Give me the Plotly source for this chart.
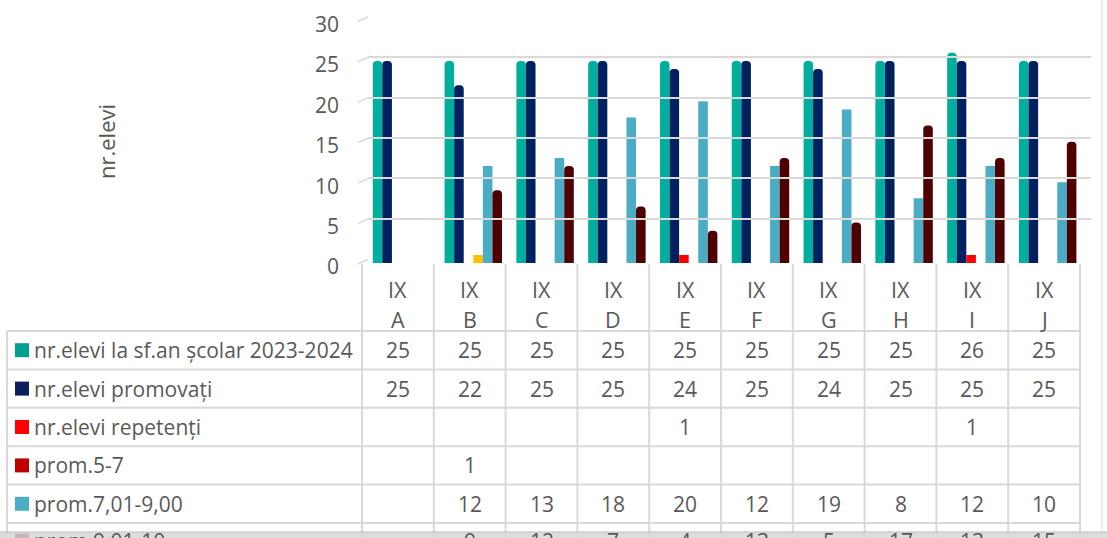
import plotly.graph_objects as go

# ---------------- data ----------------
categories = ["IX A", "IX B", "IX C", "IX D", "IX E", "IX F", "IX G", "IX H", "IX I", "IX J"]
series_names = [
    "nr.elevi la sf.an școlar 2023-2024",
    "nr.elevi promovați",
    "nr.elevi repetenți",
    "prom.5-7",
    "prom.7,01-9,00",
    "prom.9,01-10",
]
elevi_total = [25, 25, 25, 25, 25, 25, 25, 25, 26, 25]
elevi_promovati = [25, 22, 25, 25, 24, 25, 24, 25, 25, 25]
elevi_repetenti = [None, None, None, None, 1, None, None, None, 1, None]
prom_5_7 = [None, 1, None, None, None, None, None, None, None, None]
prom_7_9 = [None, 12, 13, 18, 20, 12, 19, 8, 12, 10]
prom_9_10 = [None, 9, 12, 7, 4, 13, 5, 17, 13, 15]
y_ticks = [0, 5, 10, 15, 20, 25, 30]
y_title = "nr.elevi"

series_values = [elevi_total, elevi_promovati, elevi_repetenti, prom_5_7, prom_7_9, prom_9_10]

# ---------------- styles ----------------
W, H = 1107, 538
bar_colors = ["#00AE9E", "#002060", "#FF0000", "#FFC000", "#4BACC6", "#4F0000"]
key_colors = ["#00A090", "#0C1F5C", "#FF0000", "#C00000", "#4BACC6", "#4F0000"]
corner = ["50%", "50%", 0, 0, 0, "50%"]
text_color = "#595959"
grid_color = "#D9D9D9"
FONT = "'Open Sans', Lato, sans-serif"
FS = 21


def px(x):
    return x / W


def py(y):
    return 1 - y / H


plot_left, plot_right = 362, 1080
y0_px, y30_px = 263, 20.5

fig = go.Figure()

# back-wall gridlines (dummy invisible trace on secondary axes)
fig.add_trace(go.Scatter(x=[0], y=[0], xaxis="x2", yaxis="y2", mode="markers",
                         marker=dict(opacity=0), hoverinfo="skip", showlegend=False))

for name, vals, col, cr in zip(series_names, series_values, bar_colors, corner):
    fig.add_trace(go.Bar(
        x=categories, y=vals, name=name,
        marker=dict(color=col, line=dict(width=0), cornerradius=cr),
        showlegend=False,
    ))

shapes = []
annotations = []

# side wall little slants
for v in y_ticks:
    yf = y0_px - (y0_px - y30_px) * v / 30
    shapes.append(dict(type="line", xref="paper", yref="paper",
                       x0=px(358), y0=py(yf + 1), x1=px(368), y1=py(yf - 3.7),
                       line=dict(color=grid_color, width=1.5)))

# ---------------- data table ----------------
ncol = len(categories)
col_w = (plot_right - plot_left) / ncol
table_left = 7
header_top = 264
row_tops = [331, 369.4, 407.8, 446.2, 484.6, 523]
row_centers = [350.2, 388.6, 427, 465.4, 503.8, 540.5]
line_style = dict(color=grid_color, width=2)

# horizontal lines
for rt in row_tops:
    shapes.append(dict(type="line", xref="paper", yref="paper",
                       x0=px(table_left), x1=px(plot_right), y0=py(rt), y1=py(rt), line=line_style))
# vertical lines
for i in range(ncol + 1):
    xx = plot_left + i * col_w
    shapes.append(dict(type="line", xref="paper", yref="paper",
                       x0=px(xx), x1=px(xx), y0=py(header_top), y1=py(H + 40), line=line_style))
shapes.append(dict(type="line", xref="paper", yref="paper",
                   x0=px(table_left), x1=px(table_left), y0=py(row_tops[0]), y1=py(H + 40), line=line_style))

# header labels
for i, c in enumerate(categories):
    parts = c.split(" ")
    xc = plot_left + (i + 0.5) * col_w
    annotations.append(dict(x=px(xc), y=py(289), xref="paper", yref="paper", text=parts[0],
                            showarrow=False, xanchor="center", yanchor="middle",
                            font=dict(size=FS + 0.5, color=text_color, family=FONT)))
    annotations.append(dict(x=px(xc), y=py(319), xref="paper", yref="paper", text=parts[1],
                            showarrow=False, xanchor="center", yanchor="middle",
                            font=dict(size=FS + 0.5, color=text_color, family=FONT)))

# rows
for r, (name, vals, kc) in enumerate(zip(series_names, series_values, key_colors)):
    yc = row_centers[r]
    shapes.append(dict(type="rect", xref="paper", yref="paper",
                       x0=px(15), x1=px(29), y0=py(yc - 7), y1=py(yc + 7),
                       fillcolor=kc, line=dict(width=0)))
    annotations.append(dict(x=px(32), y=py(yc), xref="paper", yref="paper", text=name,
                            showarrow=False, xanchor="left", yanchor="middle",
                            font=dict(size=FS, color=text_color, family=FONT)))
    for i, v in enumerate(vals):
        if v is None:
            continue
        xc = plot_left + (i + 0.5) * col_w
        annotations.append(dict(x=px(xc), y=py(yc), xref="paper", yref="paper", text=str(v),
                                showarrow=False, xanchor="center", yanchor="middle",
                                font=dict(size=FS, color=text_color, family=FONT)))

# y title
annotations.append(dict(x=px(106), y=py(142), xref="paper", yref="paper", text=y_title,
                        textangle=-90, showarrow=False, xanchor="center", yanchor="middle",
                        font=dict(size=22, color=text_color, family=FONT)))

# right border and bottom shadow strip
shapes.append(dict(type="line", xref="paper", yref="paper", x0=px(1102), x1=px(1102),
                   y0=py(0), y1=py(533), line=dict(color="#E6E6E6", width=1.5)))
shapes.append(dict(type="rect", xref="paper", yref="paper", x0=0, x1=1, y0=py(538), y1=py(532),
                   fillcolor="rgba(215,215,215,0.85)", line=dict(width=0), layer="above"))
shapes.append(dict(type="line", xref="paper", yref="paper", x0=0, x1=1, y0=py(532), y1=py(532),
                   line=dict(color="#BDBDBD", width=1), layer="above"))

fig.update_layout(
    width=W, height=H,
    margin=dict(l=0, r=0, t=0, b=0, pad=0, autoexpand=False),
    paper_bgcolor="white", plot_bgcolor="rgba(0,0,0,0)",
    barmode="group", bargap=0.2, bargroupgap=0,
    font=dict(family=FONT, color=text_color, size=FS),
    xaxis=dict(domain=[px(plot_left), px(plot_right)], range=[-0.55, 9.45], automargin=False,
               showticklabels=False, showgrid=False, zeroline=False, showline=False, ticks=""),
    yaxis=dict(domain=[py(y0_px), py(y30_px)], range=[0, 30], tickvals=y_ticks, automargin=False,
               showgrid=False, zeroline=False, showline=False, ticks="",
               ticklabelstandoff=22, ticklabelshift=4,
               tickfont=dict(size=FS, color=text_color, family=FONT)),
    xaxis2=dict(domain=[px(368), px(1091)], range=[0, 1], visible=False, anchor="y2", automargin=False),
    yaxis2=dict(domain=[py(259.3), py(16.8)], range=[-0.02, 30.02], anchor="x2", automargin=False,
                tickvals=y_ticks, showticklabels=False, showgrid=True, gridcolor=grid_color,
                gridwidth=2, zeroline=False, showline=False, ticks=""),
    shapes=shapes,
    annotations=annotations,
)

fig.write_html("out.html", config={"displayModeBar": False},
               post_script="document.body.style.margin='0';document.body.style.overflow='hidden';")
